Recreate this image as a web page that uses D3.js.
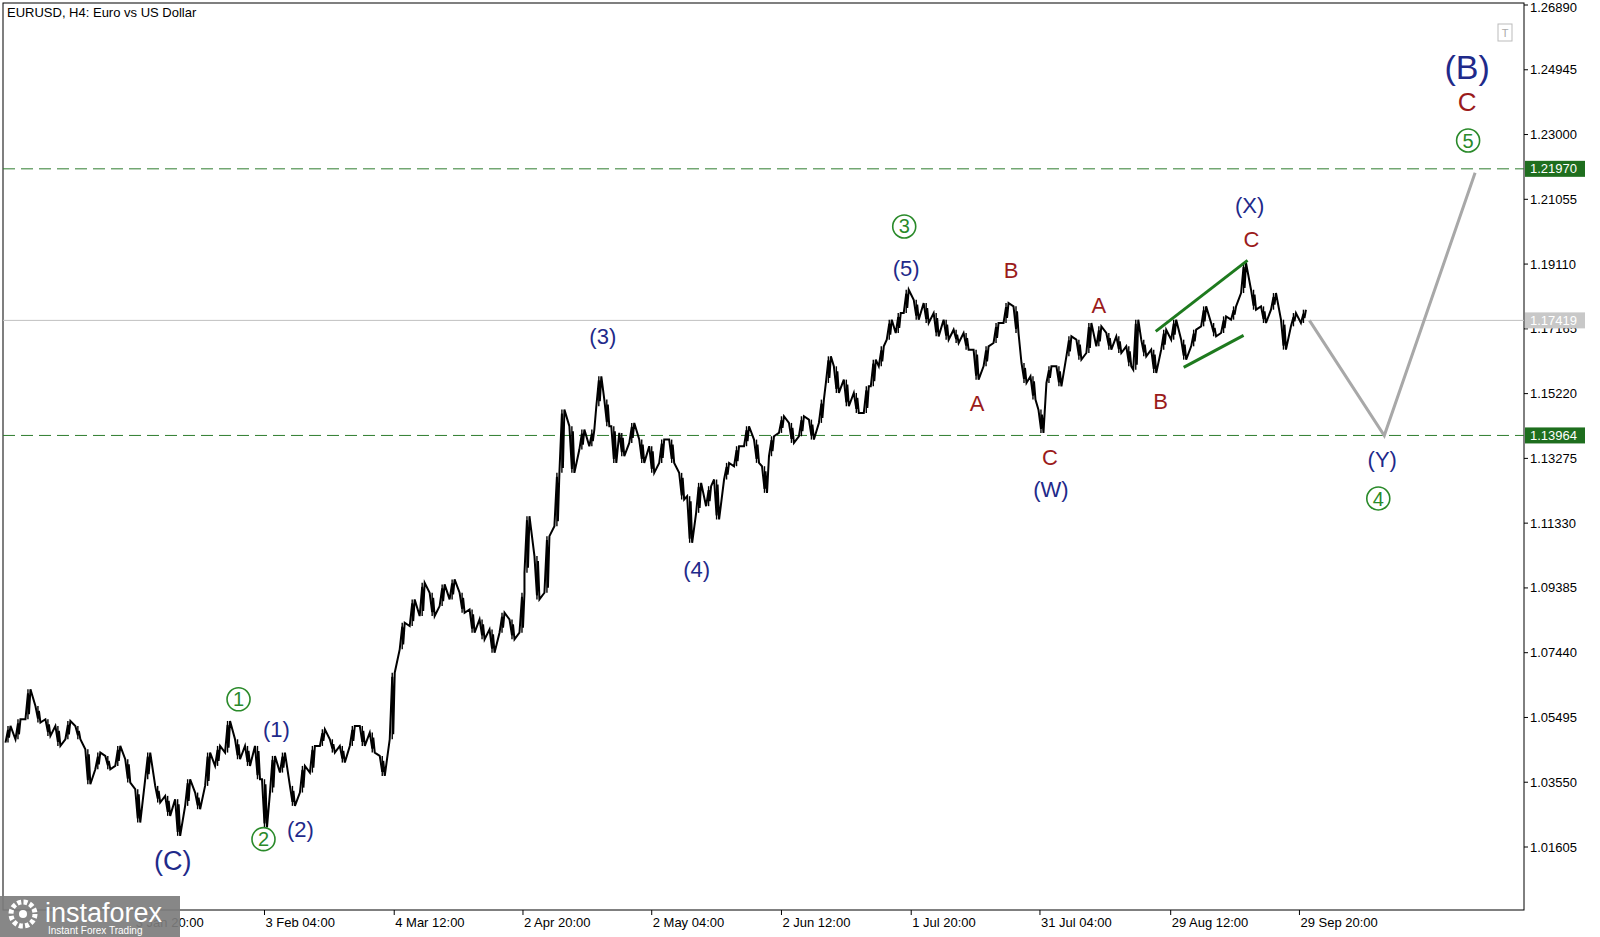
<!DOCTYPE html>
<html><head><meta charset="utf-8">
<script src="https://cdn.jsdelivr.net/npm/d3@7"></script>
<style>body{margin:0;background:#fff;}svg{display:block;font-family:Arial,"Liberation Sans",sans-serif;}</style>
</head><body><svg id="c" width="1600" height="937"></svg>
<script>
// H4 bar number (approx.), high, low
const barNo = [5,15,25,35,45,55,65,75,85,95,105,115,125,135,145,155,165,175,185,195,205,215,225,235,245,255,262,270,280,290,300,310,320,330,340,350,360,370,380,390,400,
410,420,430,440,450,460,470,480,490,500,510,520,525,535,545,555,560,570,580,590,597,605,612,620,630,640,650,660,670,680,688,697,707,715,725,735,745,755,763,770,780,790,800,810,820,827,
835,845,855,865,872,880,888,897,905,915,925,935,945,955,965,975,985,995,1005,1015,1023,1032,1040,1048,1058,1068,1078,1088,1098,1108,1118,1128,1135,1143,1153,1163,1173,1183,1193,1203,1213,1223,1233,1243,1253,1263,1273,1283,1293,1303];
const highs = [1.0524,1.0544,1.0634,1.0584,1.0544,1.0524,1.0539,1.0524,1.0454,1.0444,1.0434,1.0464,1.0424,1.0334,1.0444,1.0344,1.0314,1.0304,1.0364,1.0324,1.0444,1.0464,1.0539,1.0484,1.0464,1.0464,1.0364,1.0434,1.0444,1.0344,1.0404,1.0464,1.0514,1.0484,1.0464,1.0524,1.0524,1.0504,1.0434,1.0684,1.0834,
1.0904,1.0954,1.0924,1.0949,1.0964,1.0924,1.0874,1.0844,1.0814,1.0864,1.0844,1.0924,1.1154,1.1034,1.1094,1.1284,1.1474,1.1424,1.1414,1.1414,1.1574,1.1504,1.1424,1.1404,1.1434,1.1384,1.1364,1.1384,1.1384,1.1284,1.1214,1.1254,1.1244,1.1264,1.1314,1.1364,1.1424,1.1384,1.1304,1.1394,1.1454,1.1434,1.1454,1.1444,1.1504,1.1634,
1.1604,1.1564,1.1524,1.1544,1.1624,1.1664,1.1744,1.1764,1.1834,1.1804,1.1794,1.1764,1.1744,1.1714,1.1704,1.1654,1.1664,1.1734,1.1794,1.1784,1.1614,1.1574,1.1474,1.1604,1.1604,1.1694,1.1684,1.1734,1.1724,1.1704,1.1694,1.1664,1.1744,1.1684,1.1654,1.1714,1.1744,1.1684,1.1714,1.1784,1.1734,1.1754,1.1784,1.1914,1.1834,1.1784,1.1824,1.1744,1.1764,1.1774];
const lows = [1.0474,1.0484,1.0544,1.0534,1.0494,1.0464,1.0484,1.0484,1.0349,1.0394,1.0394,1.0404,1.0354,1.0234,1.0364,1.0294,1.0254,1.0194,1.0284,1.0274,1.0344,1.0404,1.0444,1.0424,1.0404,1.0364,1.0219,1.0324,1.0384,1.0284,1.0324,1.0384,1.0464,1.0444,1.0414,1.0464,1.0464,1.0444,1.0374,1.0484,1.0754,
1.0824,1.0854,1.0854,1.0884,1.0904,1.0864,1.0804,1.0784,1.0744,1.0804,1.0784,1.0804,1.0984,1.0904,1.0924,1.1124,1.1284,1.1284,1.1354,1.1364,1.1484,1.1424,1.1314,1.1334,1.1374,1.1314,1.1284,1.1314,1.1314,1.1204,1.1074,1.1164,1.1184,1.1144,1.1264,1.1304,1.1364,1.1314,1.1224,1.1334,1.1404,1.1374,1.1394,1.1384,1.1434,1.1554,
1.1524,1.1484,1.1464,1.1464,1.1544,1.1604,1.1684,1.1704,1.1764,1.1744,1.1734,1.1694,1.1684,1.1674,1.1654,1.1564,1.1604,1.1674,1.1734,1.1704,1.1554,1.1504,1.1404,1.1554,1.1544,1.1634,1.1624,1.1644,1.1664,1.1654,1.1644,1.1604,1.1594,1.1634,1.1584,1.1654,1.1684,1.1624,1.1664,1.1724,1.1694,1.1704,1.1744,1.1824,1.1774,1.1734,1.1774,1.1654,1.1724,1.1734];
const priceTicks = [1.26890,1.24945,1.23000,1.21055,1.19110,1.17165,1.15220,1.13275,1.11330,1.09385,1.07440,1.05495,1.03550,1.01605];
const dateTickBars = [132,262,392,521,650,780,910,1039,1170,1299];
const dateLabels = ["3 Jan 20:00","3 Feb 04:00","4 Mar 12:00","2 Apr 20:00","2 May 04:00","2 Jun 12:00","1 Jul 20:00","31 Jul 04:00","29 Aug 12:00","29 Sep 20:00"];
const levels = [{v:1.21970,type:"dash"},{v:1.13964,type:"dash"},{v:1.17419,type:"cur"}];
const channelUpper = [[1155,1.1709],[1247,1.1922]];
const channelLower = [[1183,1.1601],[1243,1.1697]];
const projection = [[1309,1.1742],[1384,1.1396],[1475,1.2185]];
// wave labels: [bar, price, text, kind]
const waveLabels = [
 [170,1.0120,"(C)","navyL"],[236,1.0604,"1","circ"],[274,1.0514,"(1)","navy"],[261,1.0184,"2","circ"],[298,1.0214,"(2)","navy"],
 [601,1.1694,"(3)","navy"],[695,1.0994,"(4)","navy"],[903,1.2024,"3","circ"],[905,1.1899,"(5)","navy"],
 [976,1.1494,"A","red"],[1010,1.1894,"B","red"],[1049,1.1330,"C","red"],[1050,1.1234,"(W)","navy"],
 [1098,1.1789,"A","red"],[1160,1.1501,"B","red"],[1249,1.2089,"(X)","navy"],[1251,1.1987,"C","red"],
 [1382,1.1324,"(Y)","navy"],[1378,1.1207,"4","circ"],[1467,1.2505,"(B)","navyXL"],[1467,1.2398,"C","redL"],[1468,1.2282,"5","circ"]];

const svg = d3.select("#c");
const L=3, R=1524, T=3, B=910;
const x = d3.scaleLinear().domain([0,1525]).range([L,R+1]);
const y = d3.scaleLinear().domain([1.01605,1.26890]).range([847,5]);

svg.append("rect").attr("x",L).attr("y",T).attr("width",R-L).attr("height",B-T).attr("fill","#fff").attr("stroke","#000").attr("stroke-width",1);

levels.forEach(l=>{
  const yy=y(l.v);
  svg.append("line").attr("x1",L).attr("x2",R).attr("y1",yy).attr("y2",yy)
    .attr("stroke",l.type==="dash"?"#2e7d2e":"#c0c0c0").attr("stroke-width",1)
    .attr("stroke-dasharray",l.type==="dash"?"12,6":null);
});

const pts=[];
barNo.forEach((b,i)=>{
  const up = i>0 ? (highs[i]+lows[i]) > (highs[i-1]+lows[i-1]) : true;
  if(up){pts.push([x(b)-2.5,lows[i]]);pts.push([x(b),highs[i]-0.0012]);pts.push([x(b)+1,lows[i]+0.0015]);pts.push([x(b)+2.5,highs[i]]);}
  else{pts.push([x(b)-2.5,highs[i]]);pts.push([x(b),lows[i]+0.0012]);pts.push([x(b)+1,highs[i]-0.0015]);pts.push([x(b)+2.5,lows[i]]);}
});
svg.append("path").attr("d",d3.line().x(d=>d[0]).y(d=>y(d[1]))(pts)).attr("fill","none").attr("stroke","#000").attr("stroke-width",2).attr("stroke-linejoin","miter");
barNo.forEach((b,i)=>{
  svg.append("line").attr("x1",x(b)).attr("x2",x(b)).attr("y1",y(highs[i])).attr("y2",y(lows[i])).attr("stroke","#000").attr("stroke-width",1.4);
});

[channelUpper,channelLower].forEach(c=>{
  svg.append("line").attr("x1",x(c[0][0])).attr("y1",y(c[0][1])).attr("x2",x(c[1][0])).attr("y2",y(c[1][1])).attr("stroke","#1e7a1e").attr("stroke-width",3);
});
svg.append("path").attr("d",d3.line().x(d=>x(d[0])).y(d=>y(d[1]))(projection)).attr("fill","none").attr("stroke","#a8a8a8").attr("stroke-width",3);

const navy="#1f2a8a", red="#9b1b1b", green="#2a8a2a";
waveLabels.forEach(([b,p,t,k])=>{
  const cx=x(b), cy=y(p);
  if(k==="circ"){
    svg.append("circle").attr("cx",cx).attr("cy",cy).attr("r",11.5).attr("fill","none").attr("stroke",green).attr("stroke-width",1.6);
    svg.append("text").attr("x",cx).attr("y",cy+7).attr("text-anchor","middle").attr("font-size",20).attr("fill",green).text(t);
  } else {
    const fs = k==="navyXL"?34:(k==="navyL"?27:(k==="redL"?26:22));
    svg.append("text").attr("x",cx).attr("y",cy+fs*0.36).attr("text-anchor","middle").attr("font-size",fs)
      .attr("fill",k.startsWith("red")?red:navy).text(t);
  }
});

priceTicks.forEach(v=>{
  const yy=y(v);
  svg.append("line").attr("x1",R).attr("x2",R+4).attr("y1",yy).attr("y2",yy).attr("stroke","#000");
  svg.append("text").attr("x",R+6).attr("y",Math.max(yy+4.5,12)).attr("font-size",13).attr("fill","#000").text(d3.format(".5f")(v));
});
levels.forEach(l=>{
  const yy=y(l.v);
  svg.append("rect").attr("x",R+1).attr("y",yy-8).attr("width",60).attr("height",16).attr("fill",l.type==="dash"?"#1e6e1e":"#c8c8c8");
  svg.append("text").attr("x",R+6).attr("y",yy+4.5).attr("font-size",13).attr("fill","#fff").text(d3.format(".5f")(l.v));
});
dateTickBars.forEach((b,i)=>{
  svg.append("line").attr("x1",x(b)).attr("x2",x(b)).attr("y1",B).attr("y2",B+5).attr("stroke","#000");
  svg.append("text").attr("x",x(b)+1).attr("y",B+17).attr("font-size",13).attr("fill","#000").text(dateLabels[i]);
});

svg.append("text").attr("x",7).attr("y",17).attr("font-size",13).attr("fill","#000").text("EURUSD, H4:  Euro vs US Dollar");
svg.append("rect").attr("x",1498).attr("y",24).attr("width",14).attr("height",17).attr("fill","#fff").attr("stroke","#bbb");
svg.append("text").attr("x",1505).attr("y",37).attr("text-anchor","middle").attr("font-size",11).attr("fill","#aaa").text("T");

const g=svg.append("g");
g.append("rect").attr("x",0).attr("y",896).attr("width",180).attr("height",41).attr("fill","#7d7d7d").attr("opacity",0.92);
g.append("circle").attr("cx",23).attr("cy",914).attr("r",12).attr("fill","none").attr("stroke","#fff").attr("stroke-width",5).attr("stroke-dasharray","4,2.3");
g.append("circle").attr("cx",23).attr("cy",914).attr("r",4).attr("fill","#fff");
g.append("text").attr("x",45).attr("y",922).attr("font-size",27).attr("fill","#fff").text("instaforex");
g.append("text").attr("x",48).attr("y",934).attr("font-size",10).attr("fill","#fff").text("Instant Forex Trading");
</script></body></html>
